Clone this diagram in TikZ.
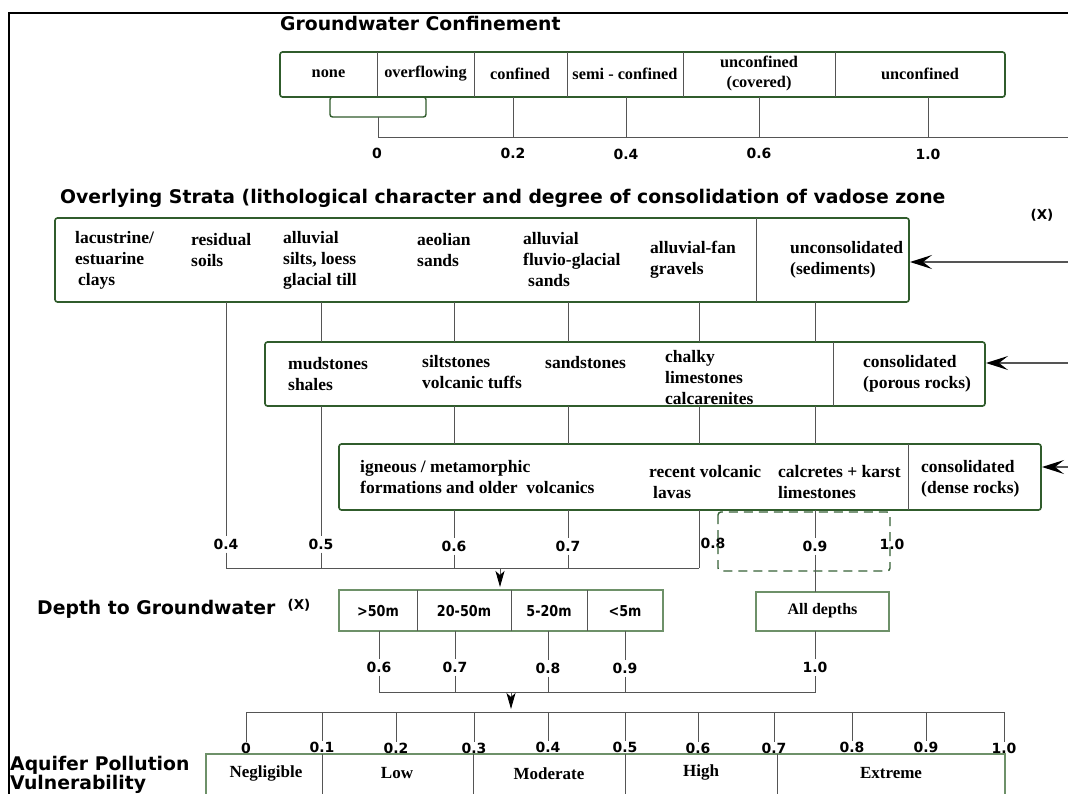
\documentclass[tikz,border=0pt]{standalone}
\usepackage{fontspec}
\setmainfont{Liberation Serif}
\newfontfamily\dejavu{DejaVu Sans}
\newfontfamily\dejavunarrow{DejaVu Sans}[FakeStretch=0.85]
\usetikzlibrary{arrows.meta}
\definecolor{boxgreen}{RGB}{48,92,44}
\definecolor{palegreen}{RGB}{110,145,105}
\definecolor{linegray}{RGB}{85,85,85}
\definecolor{dashgreen}{RGB}{55,98,55}
\tikzset{
  gbox/.style={draw=boxgreen, line width=1.6pt, rounded corners=2.5pt, inner sep=0pt, outer sep=0pt},
  pbox/.style={draw=palegreen, line width=1.1pt, inner sep=0pt, outer sep=0pt},
  divline/.style={draw=linegray, line width=0.8pt},
  conn/.style={draw=linegray, line width=0.9pt},
  feed/.style={draw=linegray, line width=1.3pt, shorten >=1pt, -{Stealth[length=22pt,width=14pt,inset=9pt,color=black]}},
  downarrow/.style={draw=linegray, line width=0.9pt, shorten >=3pt, -{Stealth[length=16pt,width=9pt,inset=4pt,color=black]}},
  lbl/.style={font=\bfseries\fontsize{17.5}{21}\selectfont, inner sep=0pt, align=left, anchor=west},
  toplbl/.style={font=\bfseries\fontsize{16.3}{20}\selectfont, inner sep=0pt, align=center},
  ctrlbl/.style={font=\bfseries\fontsize{17}{20}\selectfont, inner sep=0pt, align=center},
  num/.style={font=\dejavu\bfseries\fontsize{14}{16}\selectfont, inner sep=3pt},
  xmark/.style={font=\dejavu\bfseries\fontsize{13.5}{15}\selectfont, inner sep=0pt},
  head/.style={font=\dejavu\bfseries\fontsize{18.8}{18}\selectfont, inner sep=0pt, anchor=west, align=left},
  dlbl/.style={font=\dejavunarrow\bfseries\fontsize{15}{17}\selectfont, inner sep=0pt},
  dashrect/.style={draw=dashgreen, line width=1.4pt, dash pattern=on 9pt off 6pt, rounded corners=3pt},
}
\begin{document}
\begin{tikzpicture}[x=1pt,y=-1pt]
\useasboundingbox (0,0) rectangle (1068,793);
\clip (0,0) rectangle (1068,793);
\fill[white] (0,0) rectangle (1068,793);

% frame
\draw[line width=2.6pt] (9,800) -- (9,13) -- (1075,13);

% ---------------- Groundwater confinement ----------------
\node[head] (t1) at (280,23) {Groundwater Confinement};
\node[gbox, minimum width=725pt, minimum height=45pt] (conf) at (642.5,74.5) {};
\foreach \x in {377,474,567,683,835} \draw[divline] (\x,52) -- (\x,97);
\node[toplbl] (cnone) at (328.5,74) {none};
\node[toplbl] (cover) at (425.5,74) {overflowing};
\node[toplbl] (cconf) at (520,74) {confined};
\node[toplbl] (csemi) at (625,74) {semi - confined};
\node[toplbl] (cunc) at (759,73) {unconfined\\(covered)};
\node[toplbl] (cun) at (920,74) {unconfined};
\node[gbox, line width=1.4pt, minimum width=96pt, minimum height=20pt] (small) at (378,107) {};

\node[num] (c0) at (377,153) {0};
\node[num] (c2) at (513,153) {0.2};
\node[num] (c4) at (626,154) {0.4};
\node[num] (c6) at (759,153) {0.6};
\node[num] (c10) at (928,154) {1.0};
\coordinate (cend) at (1068,137);
\draw[conn] (small.south) -- (small.south |- cend) -- (cend);
\foreach \n in {c2,c4,c6,c10} \draw[conn] (conf.south -| \n) -- (\n |- cend);

% ---------------- Overlying strata ----------------
\node[head] (t2) at (60,198) {Overlying Strata (lithological character and degree of consolidation of vadose zone};
\node[xmark] (x1) at (1042,215) {(X)};

\node[gbox, minimum width=854pt, minimum height=84pt] (s1) at (482,260) {};
\draw[divline] (756,218) -- (756,302);
\node[lbl] (a1) at (75,260) {lacustrine/\\estuarine\\\hspace*{3pt}clays};
\node[lbl] (a2) at (191,250) {residual\\soils};
\node[lbl] (a3) at (283,260) {alluvial\\silts, loess\\glacial till};
\node[lbl] (a4) at (417,250) {aeolian\\sands};
\node[lbl] (a5) at (523,260) {alluvial\\fluvio-glacial\\\hspace*{5pt}sands};
\node[lbl] (a6) at (650,260) {alluvial-fan\\gravels};
\node[lbl] (a7) at (790,260) {unconsolidated\\(sediments)};

\node[gbox, minimum width=720pt, minimum height=64pt] (s2) at (625,374) {};
\draw[divline] (833,342) -- (833,406);
\node[lbl] (b1) at (288,374) {mudstones\\shales};
\node[lbl] (b2) at (422,372) {siltstones\\volcanic tuffs};
\node[lbl] (b3) at (545,363) {sandstones};
\node[lbl] (b4) at (665,378) {chalky\\limestones\\calcarenites};
\node[lbl] (b5) at (863,374) {consolidated\\(porous rocks)};

\node[gbox, minimum width=702pt, minimum height=66pt] (s3) at (690,477) {};
\draw[divline] (908,444) -- (908,510);
\node[lbl] (d1) at (360,477) {igneous / metamorphic\\formations and older\ \ volcanics};
\node[lbl] (d2) at (649,482) {recent volcanic\\\hspace*{4pt}lavas};
\node[lbl] (d3) at (778,482) {calcretes + karst\\limestones};
\node[lbl] (d4) at (921,479) {consolidated\\(dense rocks)};

\coordinate (f1) at (1068,262);
\coordinate (f2) at (1068,363);
\coordinate (f3) at (1075,467);
\draw[feed] (f1) -- (s1.east |- f1);
\draw[feed] (f2) -- (s2.east |- f2);
\draw[feed] (f3) -- (s3.east |- f3);

% strata scale labels
\node[num] (v4) at (226,544) {0.4};
\node[num] (v5) at (321,544) {0.5};
\node[num] (v6) at (454,546) {0.6};
\node[num] (v7) at (568,546) {0.7};
\node[num] (v8) at (713,543) {0.8};
\node[num] (v9) at (815,546) {0.9};
\node[num] (v10) at (892,544) {1.0};
\coordinate (k8) at (699,568);

\draw[conn] (s1.south -| v4) -- (v4.north);
\draw[conn] (s1.south -| v5) -- (s2.north -| v5);
\draw[conn] (s2.south -| v5) -- (v5.north);
\foreach \n in {v6,v7,v9} {
  \draw[conn] (s1.south -| \n) -- (s2.north -| \n);
  \draw[conn] (s2.south -| \n) -- (s3.north -| \n);
  \draw[conn] (s3.south -| \n) -- (\n.north);
}
\draw[conn] (s1.south -| k8) -- (s2.north -| k8);
\draw[conn] (s2.south -| k8) -- (s3.north -| k8);
\draw[conn] (s3.south -| k8) -- (k8);
\draw[conn] (v4.south) -- (v4 |- k8) -- (k8);
\foreach \n in {v5,v6,v7} \draw[conn] (\n.south) -- (\n |- k8);

\draw[dashrect] (718,512) rectangle (890,571);

% ---------------- Depth to groundwater ----------------
\node[head] (t3) at (37,609) {Depth to Groundwater};
\node[xmark] (x2) at (299,605) {(X)};
\node[pbox, minimum width=324pt, minimum height=41pt] (depth) at (501,610.5) {};
\foreach \x in {417,511,587} \draw[divline] (\x,590) -- (\x,631);
\node[dlbl] (e1) at (378,611) {>50m};
\node[dlbl] (e2) at (464,611) {20-50m};
\node[dlbl] (e3) at (549,611) {5-20m};
\node[dlbl] (e4) at (625,611) {<5m};
\node[pbox, minimum width=133pt, minimum height=39pt] (ad) at (822.5,611.5) {};
\node[ctrlbl, font=\bfseries\fontsize{16}{19}\selectfont] (adt) at (822.5,611) {All depths};

\draw[conn] (v9.south) -- (ad.north -| v9);
\coordinate (a1pt) at (500,568);
\draw[downarrow] (a1pt) -- (depth.north -| a1pt);

\node[num] (w6) at (379,667) {0.6};
\node[num] (w7) at (455,667) {0.7};
\node[num] (w8) at (548,668) {0.8};
\node[num] (w9) at (625,668) {0.9};
\node[num] (w10) at (815,667) {1.0};
\foreach \n in {w6,w7,w8,w9} \draw[conn] (depth.south -| \n) -- (\n.north);
\draw[conn] (ad.south -| w10) -- (w10.north);
\coordinate (k10) at (815,692);
\draw[conn] (w6.south) -- (w6 |- k10) -- (k10) -- (w10.south);
\foreach \n in {w7,w8,w9} \draw[conn] (\n.south) -- (\n |- k10);

% ---------------- Vulnerability scale ----------------
\node[num] (q0) at (246,748) {0};
\node[num] (q1) at (322,747) {0.1};
\node[num] (q2) at (396,748) {0.2};
\node[num] (q3) at (474,748) {0.3};
\node[num] (q4) at (548,747) {0.4};
\node[num] (q5) at (625,747) {0.5};
\node[num] (q6) at (698,748) {0.6};
\node[num] (q7) at (774,748) {0.7};
\node[num] (q8) at (852,747) {0.8};
\node[num] (q9) at (926,747) {0.9};
\node[num] (q10) at (1004,748) {1.0};
\coordinate (sc) at (0,712);
\draw[conn] (q0 |- sc) -- (q10 |- sc);
\foreach \n in {q0,q1,q2,q3,q4,q5,q6,q7,q8,q9,q10} \draw[conn] (\n |- sc) -- ([yshift=-2pt]\n.north);
\coordinate (a2pt) at (511,692);
\draw[downarrow] (a2pt) -- (a2pt |- sc);

\node[pbox, minimum width=799pt, minimum height=60pt, anchor=north west] (vul) at (206,754) {};
\foreach \x in {322,473,625,777} \draw[divline] (\x,754) -- (\x,800);
\node[ctrlbl] (g1) at (266,773) {Negligible};
\node[ctrlbl] (g2) at (397,773) {Low};
\node[ctrlbl] (g3) at (549,774) {Moderate};
\node[ctrlbl] (g4) at (701,772) {High};
\node[ctrlbl] (g5) at (891,773) {Extreme};
\node[head] (t4) at (10,775) {Aquifer Pollution\\Vulnerability};
\end{tikzpicture}
\end{document}
